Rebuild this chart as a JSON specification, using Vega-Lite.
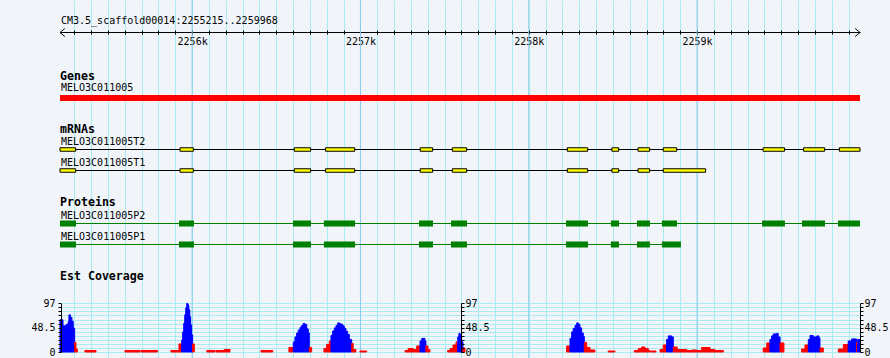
{
  "$schema": "https://vega.github.io/schema/vega-lite/v6.json",
  "width": 800,
  "height": 358,
  "autosize": {"type": "none"},
  "padding": {"left": 60, "right": 30, "top": 0, "bottom": 0},
  "background": "#f1f5fa",
  "config": {
    "view": {"stroke": null},
    "axis": {"labelFont": "DejaVu Sans Mono", "labelFontSize": 10, "labelColor": "#000000", "tickColor": "#000000", "domainColor": "#000000", "labelOverlap": false, "labelFlush": false}
  },
  "datasets": {
    "majorTicks": [{"pos": 2256000}, {"pos": 2257000}, {"pos": 2258000}, {"pos": 2259000}],
    "rulerEnds": [{"pos": 2255215, "end": "start"}, {"pos": 2259968, "end": "stop"}],
    "rulerTitle": [{"pos": 2255215, "lane": "title", "label": "CM3.5_scaffold00014:2255215..2259968"}],
    "genes": [{"name": "MELO3C011005", "s": 2255215, "e": 2259968}],
    "transcripts": [
      {"name": "MELO3C011005T2", "s": 2255215, "e": 2259968},
      {"name": "MELO3C011005T1", "s": 2255215, "e": 2259051}
    ],
    "exons": [
      {"name": "MELO3C011005T2", "s": 2255215, "e": 2255308},
      {"name": "MELO3C011005T2", "s": 2255928, "e": 2256007},
      {"name": "MELO3C011005T2", "s": 2256607, "e": 2256704},
      {"name": "MELO3C011005T2", "s": 2256793, "e": 2256966},
      {"name": "MELO3C011005T2", "s": 2257355, "e": 2257429},
      {"name": "MELO3C011005T2", "s": 2257546, "e": 2257631},
      {"name": "MELO3C011005T2", "s": 2258229, "e": 2258350},
      {"name": "MELO3C011005T2", "s": 2258494, "e": 2258534},
      {"name": "MELO3C011005T2", "s": 2258649, "e": 2258718},
      {"name": "MELO3C011005T2", "s": 2258799, "e": 2258879},
      {"name": "MELO3C011005T2", "s": 2259392, "e": 2259520},
      {"name": "MELO3C011005T2", "s": 2259633, "e": 2259758},
      {"name": "MELO3C011005T2", "s": 2259845, "e": 2259968},
      {"name": "MELO3C011005T1", "s": 2255215, "e": 2255308},
      {"name": "MELO3C011005T1", "s": 2255928, "e": 2256007},
      {"name": "MELO3C011005T1", "s": 2256607, "e": 2256704},
      {"name": "MELO3C011005T1", "s": 2256793, "e": 2256966},
      {"name": "MELO3C011005T1", "s": 2257355, "e": 2257429},
      {"name": "MELO3C011005T1", "s": 2257546, "e": 2257631},
      {"name": "MELO3C011005T1", "s": 2258229, "e": 2258350},
      {"name": "MELO3C011005T1", "s": 2258494, "e": 2258534},
      {"name": "MELO3C011005T1", "s": 2258649, "e": 2258718},
      {"name": "MELO3C011005T1", "s": 2258799, "e": 2259051}
    ],
    "proteins": [
      {"name": "MELO3C011005P2", "s": 2255215, "e": 2259968},
      {"name": "MELO3C011005P1", "s": 2255215, "e": 2258904}
    ],
    "cds": [
      {"name": "MELO3C011005P2", "s": 2255215, "e": 2255310},
      {"name": "MELO3C011005P2", "s": 2255922, "e": 2256011},
      {"name": "MELO3C011005P2", "s": 2256599, "e": 2256706},
      {"name": "MELO3C011005P2", "s": 2256783, "e": 2256968},
      {"name": "MELO3C011005P2", "s": 2257348, "e": 2257431},
      {"name": "MELO3C011005P2", "s": 2257538, "e": 2257633},
      {"name": "MELO3C011005P2", "s": 2258221, "e": 2258352},
      {"name": "MELO3C011005P2", "s": 2258488, "e": 2258536},
      {"name": "MELO3C011005P2", "s": 2258643, "e": 2258720},
      {"name": "MELO3C011005P2", "s": 2258791, "e": 2258881},
      {"name": "MELO3C011005P2", "s": 2259386, "e": 2259522},
      {"name": "MELO3C011005P2", "s": 2259623, "e": 2259760},
      {"name": "MELO3C011005P2", "s": 2259837, "e": 2259968},
      {"name": "MELO3C011005P1", "s": 2255215, "e": 2255310},
      {"name": "MELO3C011005P1", "s": 2255922, "e": 2256011},
      {"name": "MELO3C011005P1", "s": 2256599, "e": 2256706},
      {"name": "MELO3C011005P1", "s": 2256783, "e": 2256968},
      {"name": "MELO3C011005P1", "s": 2257348, "e": 2257431},
      {"name": "MELO3C011005P1", "s": 2257538, "e": 2257633},
      {"name": "MELO3C011005P1", "s": 2258221, "e": 2258352},
      {"name": "MELO3C011005P1", "s": 2258488, "e": 2258536},
      {"name": "MELO3C011005P1", "s": 2258643, "e": 2258720},
      {"name": "MELO3C011005P1", "s": 2258791, "e": 2258904}
    ],
    "coverage": [
      {"s": 2255215, "e": 2255233, "c": 64, "k": "est"},
      {"s": 2255233, "e": 2255251, "c": 52, "k": "est"},
      {"s": 2255251, "e": 2255263, "c": 55, "k": "est"},
      {"s": 2255263, "e": 2255268, "c": 60, "k": "est"},
      {"s": 2255268, "e": 2255277, "c": 74, "k": "est"},
      {"s": 2255277, "e": 2255286, "c": 69, "k": "est"},
      {"s": 2255286, "e": 2255294, "c": 61, "k": "est"},
      {"s": 2255294, "e": 2255302, "c": 47, "k": "est"},
      {"s": 2255302, "e": 2255310, "c": 19, "k": "low"},
      {"s": 2255310, "e": 2255318, "c": 6, "k": "low"},
      {"s": 2255363, "e": 2255429, "c": 3, "k": "low"},
      {"s": 2255601, "e": 2255690, "c": 3, "k": "low"},
      {"s": 2255696, "e": 2255794, "c": 3, "k": "low"},
      {"s": 2255874, "e": 2255922, "c": 3, "k": "low"},
      {"s": 2255922, "e": 2255938, "c": 16, "k": "low"},
      {"s": 2255938, "e": 2255944, "c": 24, "k": "est"},
      {"s": 2255944, "e": 2255950, "c": 40, "k": "est"},
      {"s": 2255950, "e": 2255956, "c": 57, "k": "est"},
      {"s": 2255956, "e": 2255962, "c": 74, "k": "est"},
      {"s": 2255962, "e": 2255968, "c": 88, "k": "est"},
      {"s": 2255968, "e": 2255974, "c": 97, "k": "est"},
      {"s": 2255974, "e": 2255980, "c": 94, "k": "est"},
      {"s": 2255980, "e": 2255986, "c": 84, "k": "est"},
      {"s": 2255986, "e": 2255991, "c": 70, "k": "est"},
      {"s": 2255991, "e": 2255997, "c": 54, "k": "est"},
      {"s": 2255997, "e": 2256003, "c": 34, "k": "est"},
      {"s": 2256003, "e": 2256013, "c": 16, "k": "low"},
      {"s": 2256087, "e": 2256136, "c": 3, "k": "low"},
      {"s": 2256142, "e": 2256190, "c": 3, "k": "low"},
      {"s": 2256190, "e": 2256225, "c": 5, "k": "low"},
      {"s": 2256409, "e": 2256479, "c": 3, "k": "low"},
      {"s": 2256575, "e": 2256601, "c": 9, "k": "low"},
      {"s": 2256601, "e": 2256611, "c": 20, "k": "est"},
      {"s": 2256611, "e": 2256621, "c": 30, "k": "est"},
      {"s": 2256621, "e": 2256631, "c": 38, "k": "est"},
      {"s": 2256631, "e": 2256641, "c": 44, "k": "est"},
      {"s": 2256641, "e": 2256651, "c": 49, "k": "est"},
      {"s": 2256651, "e": 2256660, "c": 53, "k": "est"},
      {"s": 2256660, "e": 2256670, "c": 57, "k": "est"},
      {"s": 2256670, "e": 2256681, "c": 55, "k": "est"},
      {"s": 2256681, "e": 2256690, "c": 46, "k": "est"},
      {"s": 2256690, "e": 2256696, "c": 38, "k": "est"},
      {"s": 2256696, "e": 2256710, "c": 9, "k": "low"},
      {"s": 2256783, "e": 2256799, "c": 7, "k": "low"},
      {"s": 2256799, "e": 2256815, "c": 15, "k": "low"},
      {"s": 2256815, "e": 2256825, "c": 22, "k": "low"},
      {"s": 2256825, "e": 2256835, "c": 33, "k": "est"},
      {"s": 2256835, "e": 2256845, "c": 42, "k": "est"},
      {"s": 2256845, "e": 2256855, "c": 48, "k": "est"},
      {"s": 2256855, "e": 2256865, "c": 53, "k": "est"},
      {"s": 2256865, "e": 2256874, "c": 58, "k": "est"},
      {"s": 2256874, "e": 2256884, "c": 57, "k": "est"},
      {"s": 2256884, "e": 2256895, "c": 55, "k": "est"},
      {"s": 2256895, "e": 2256904, "c": 52, "k": "est"},
      {"s": 2256904, "e": 2256914, "c": 47, "k": "est"},
      {"s": 2256914, "e": 2256924, "c": 41, "k": "est"},
      {"s": 2256924, "e": 2256934, "c": 35, "k": "est"},
      {"s": 2256934, "e": 2256948, "c": 25, "k": "est"},
      {"s": 2256948, "e": 2256957, "c": 17, "k": "low"},
      {"s": 2256957, "e": 2256973, "c": 5, "k": "low"},
      {"s": 2256997, "e": 2257037, "c": 2, "k": "low"},
      {"s": 2257265, "e": 2257284, "c": 3, "k": "low"},
      {"s": 2257284, "e": 2257314, "c": 7, "k": "low"},
      {"s": 2257314, "e": 2257334, "c": 5, "k": "low"},
      {"s": 2257334, "e": 2257354, "c": 12, "k": "low"},
      {"s": 2257354, "e": 2257364, "c": 22, "k": "est"},
      {"s": 2257364, "e": 2257383, "c": 27, "k": "est"},
      {"s": 2257383, "e": 2257389, "c": 22, "k": "est"},
      {"s": 2257389, "e": 2257401, "c": 12, "k": "low"},
      {"s": 2257401, "e": 2257413, "c": 5, "k": "low"},
      {"s": 2257518, "e": 2257532, "c": 3, "k": "low"},
      {"s": 2257532, "e": 2257550, "c": 7, "k": "low"},
      {"s": 2257550, "e": 2257568, "c": 14, "k": "low"},
      {"s": 2257568, "e": 2257578, "c": 20, "k": "low"},
      {"s": 2257578, "e": 2257585, "c": 30, "k": "est"},
      {"s": 2257585, "e": 2257593, "c": 37, "k": "est"},
      {"s": 2257593, "e": 2257601, "c": 32, "k": "est"},
      {"s": 2257601, "e": 2257609, "c": 20, "k": "est"},
      {"s": 2257609, "e": 2257621, "c": 8, "k": "low"},
      {"s": 2258225, "e": 2258245, "c": 12, "k": "low"},
      {"s": 2258245, "e": 2258255, "c": 27, "k": "est"},
      {"s": 2258255, "e": 2258264, "c": 40, "k": "est"},
      {"s": 2258264, "e": 2258275, "c": 47, "k": "est"},
      {"s": 2258275, "e": 2258285, "c": 53, "k": "est"},
      {"s": 2258285, "e": 2258294, "c": 58, "k": "est"},
      {"s": 2258294, "e": 2258304, "c": 55, "k": "est"},
      {"s": 2258304, "e": 2258314, "c": 48, "k": "est"},
      {"s": 2258314, "e": 2258324, "c": 38, "k": "est"},
      {"s": 2258324, "e": 2258330, "c": 31, "k": "est"},
      {"s": 2258330, "e": 2258344, "c": 19, "k": "low"},
      {"s": 2258344, "e": 2258364, "c": 9, "k": "low"},
      {"s": 2258364, "e": 2258393, "c": 4, "k": "low"},
      {"s": 2258472, "e": 2258512, "c": 2, "k": "low"},
      {"s": 2258627, "e": 2258651, "c": 3, "k": "low"},
      {"s": 2258651, "e": 2258671, "c": 7, "k": "low"},
      {"s": 2258671, "e": 2258690, "c": 10, "k": "low"},
      {"s": 2258690, "e": 2258710, "c": 7, "k": "low"},
      {"s": 2258710, "e": 2258720, "c": 3, "k": "low"},
      {"s": 2258724, "e": 2258756, "c": 2, "k": "low"},
      {"s": 2258780, "e": 2258799, "c": 5, "k": "low"},
      {"s": 2258799, "e": 2258819, "c": 14, "k": "low"},
      {"s": 2258819, "e": 2258829, "c": 25, "k": "est"},
      {"s": 2258829, "e": 2258849, "c": 32, "k": "est"},
      {"s": 2258849, "e": 2258859, "c": 30, "k": "est"},
      {"s": 2258859, "e": 2258882, "c": 10, "k": "low"},
      {"s": 2258882, "e": 2258938, "c": 5, "k": "low"},
      {"s": 2258938, "e": 2258968, "c": 3, "k": "low"},
      {"s": 2258968, "e": 2258998, "c": 4, "k": "low"},
      {"s": 2258998, "e": 2259027, "c": 3, "k": "low"},
      {"s": 2259027, "e": 2259077, "c": 9, "k": "low"},
      {"s": 2259077, "e": 2259106, "c": 5, "k": "low"},
      {"s": 2259106, "e": 2259156, "c": 3, "k": "low"},
      {"s": 2259393, "e": 2259414, "c": 8, "k": "low"},
      {"s": 2259414, "e": 2259433, "c": 18, "k": "low"},
      {"s": 2259433, "e": 2259443, "c": 25, "k": "est"},
      {"s": 2259443, "e": 2259453, "c": 32, "k": "est"},
      {"s": 2259453, "e": 2259473, "c": 36, "k": "est"},
      {"s": 2259473, "e": 2259482, "c": 37, "k": "est"},
      {"s": 2259482, "e": 2259493, "c": 30, "k": "est"},
      {"s": 2259493, "e": 2259516, "c": 18, "k": "low"},
      {"s": 2259621, "e": 2259641, "c": 6, "k": "low"},
      {"s": 2259641, "e": 2259661, "c": 14, "k": "low"},
      {"s": 2259661, "e": 2259671, "c": 25, "k": "est"},
      {"s": 2259671, "e": 2259690, "c": 33, "k": "est"},
      {"s": 2259690, "e": 2259711, "c": 30, "k": "est"},
      {"s": 2259711, "e": 2259724, "c": 32, "k": "est"},
      {"s": 2259724, "e": 2259730, "c": 28, "k": "est"},
      {"s": 2259730, "e": 2259750, "c": 8, "k": "low"},
      {"s": 2259839, "e": 2259869, "c": 6, "k": "low"},
      {"s": 2259869, "e": 2259898, "c": 15, "k": "low"},
      {"s": 2259898, "e": 2259918, "c": 22, "k": "est"},
      {"s": 2259918, "e": 2259948, "c": 26, "k": "est"},
      {"s": 2259948, "e": 2259954, "c": 20, "k": "low"},
      {"s": 2259954, "e": 2259968, "c": 25, "k": "est"}
    ]
  },
  "resolve": {"scale": {"y": "independent"}, "axis": {"x": "independent", "y": "independent"}},
  "layer": [
    {
      "data": {"name": "majorTicks"},
      "mark": {"type": "rule", "color": "#8ccaea", "strokeWidth": 1},
      "encoding": {
        "x": {"field": "pos", "type": "quantitative", "scale": {"domain": [2255215, 2259968], "nice": false, "zero": false},
          "axis": {"orient": "top", "tickCount": 48, "grid": true, "gridColor": "#a9ecf1", "gridWidth": 1, "gridOpacity": 1, "labels": false, "ticks": false, "domain": false, "title": null}}
      }
    },
    {
      "resolve": {"axis": {"x": "independent"}},
      "layer": [
        {
          "data": {"name": "rulerEnds"},
          "mark": {"type": "point", "filled": false, "stroke": "#000000", "strokeWidth": 1, "size": 64, "opacity": 1},
          "encoding": {
            "x": {"field": "pos", "type": "quantitative", "scale": {"domain": [2255215, 2259968], "nice": false, "zero": false},
              "axis": {"orient": "bottom", "offset": -326, "tickCount": 48, "grid": false, "domain": true, "domainWidth": 1, "ticks": true, "tickSize": 2, "tickWidth": 1, "labels": true, "labelPadding": 2.5, "labelExpr": "datum.value % 1000 === 0 ? format(datum.value / 1000, 'd') + 'k' : ''", "title": null}},
            "y": {"datum": "ruler", "type": "nominal", "scale": {"type": "point", "domain": ["title", "ruler"], "range": [21, 32.5], "padding": 0}, "axis": null},
            "shape": {"field": "end", "type": "nominal", "scale": {"domain": ["start", "stop"], "range": ["M1.2,-1L0,0L1.2,1", "M-1.2,-1L0,0L-1.2,1"]}, "legend": null}
          }
        },
        {
          "data": {"name": "rulerTitle"},
          "mark": {"type": "text", "align": "left", "baseline": "middle", "font": "DejaVu Sans Mono", "fontSize": 10, "color": "#000000", "dx": 1},
          "encoding": {
            "x": {"field": "pos", "type": "quantitative", "scale": {"domain": [2255215, 2259968], "nice": false, "zero": false},
              "axis": {"orient": "top", "offset": -32, "tickCount": 48, "grid": false, "domain": false, "ticks": true, "tickSize": 2, "tickWidth": 1, "labels": false, "title": null}},
            "y": {"field": "lane", "type": "nominal", "scale": {"type": "point", "domain": ["title", "ruler"], "range": [21, 32.5], "padding": 0}, "axis": null},
            "text": {"field": "label"}
          }
        }
      ]
    },
    {
      "layer": [
        {
          "data": {"name": "genes"},
          "mark": {"type": "rule", "color": "#ff0000", "strokeWidth": 6},
          "encoding": {
            "x": {"field": "s", "type": "quantitative", "scale": {"domain": [2255215, 2259968], "nice": false, "zero": false}, "axis": null},
            "x2": {"field": "e"},
            "y": {"field": "name", "type": "nominal", "scale": {"type": "point", "domain": ["Genes", "MELO3C011005"], "range": [77, 98], "padding": 0}, "axis": null}
          }
        },
        {
          "data": {"name": "genes"},
          "mark": {"type": "text", "align": "left", "baseline": "middle", "font": "DejaVu Sans Mono", "fontSize": 10, "color": "#000000", "dx": 1, "dy": -10},
          "encoding": {
            "x": {"field": "s", "type": "quantitative", "scale": {"domain": [2255215, 2259968], "nice": false, "zero": false}, "axis": null},
            "y": {"field": "name", "type": "nominal", "scale": {"type": "point", "domain": ["Genes", "MELO3C011005"], "range": [77, 98], "padding": 0}, "axis": null},
            "text": {"field": "name"}
          }
        },
        {
          "data": {"values": [{"pos": 2255215, "track": "Genes"}]},
          "mark": {"type": "text", "align": "left", "baseline": "middle", "font": "DejaVu Sans Mono", "fontSize": 11.6, "fontWeight": "bold", "color": "#000000"},
          "encoding": {
            "x": {"field": "pos", "type": "quantitative", "scale": {"domain": [2255215, 2259968], "nice": false, "zero": false}, "axis": null},
            "y": {"field": "track", "type": "nominal", "scale": {"type": "point", "domain": ["Genes", "MELO3C011005"], "range": [77, 98], "padding": 0}, "axis": null},
            "text": {"field": "track"}
          }
        }
      ]
    },
    {
      "layer": [
        {
          "data": {"name": "transcripts"},
          "mark": {"type": "rule", "color": "#000000", "strokeWidth": 1},
          "encoding": {
            "x": {"field": "s", "type": "quantitative", "scale": {"domain": [2255215, 2259968], "nice": false, "zero": false}, "axis": null},
            "x2": {"field": "e"},
            "y": {"field": "name", "type": "nominal", "scale": {"type": "point", "domain": ["mRNAs", "MELO3C011005T2", "MELO3C011005T1"], "range": [128.5, 170.5], "padding": 0}, "axis": null}
          }
        },
        {
          "data": {"name": "exons"},
          "mark": {"type": "bar", "orient": "horizontal", "height": 3.5, "fill": "#ffff00", "stroke": "#000000", "strokeWidth": 1},
          "encoding": {
            "x": {"field": "s", "type": "quantitative", "scale": {"domain": [2255215, 2259968], "nice": false, "zero": false}, "axis": null},
            "x2": {"field": "e"},
            "y": {"field": "name", "type": "nominal", "scale": {"type": "point", "domain": ["mRNAs", "MELO3C011005T2", "MELO3C011005T1"], "range": [128.5, 170.5], "padding": 0}, "axis": null}
          }
        },
        {
          "data": {"name": "transcripts"},
          "mark": {"type": "text", "align": "left", "baseline": "middle", "font": "DejaVu Sans Mono", "fontSize": 10, "color": "#000000", "dx": 1, "dy": -8},
          "encoding": {
            "x": {"field": "s", "type": "quantitative", "scale": {"domain": [2255215, 2259968], "nice": false, "zero": false}, "axis": null},
            "y": {"field": "name", "type": "nominal", "scale": {"type": "point", "domain": ["mRNAs", "MELO3C011005T2", "MELO3C011005T1"], "range": [128.5, 170.5], "padding": 0}, "axis": null},
            "text": {"field": "name"}
          }
        },
        {
          "data": {"values": [{"pos": 2255215, "track": "mRNAs"}]},
          "mark": {"type": "text", "align": "left", "baseline": "middle", "font": "DejaVu Sans Mono", "fontSize": 11.6, "fontWeight": "bold", "color": "#000000", "dy": 1},
          "encoding": {
            "x": {"field": "pos", "type": "quantitative", "scale": {"domain": [2255215, 2259968], "nice": false, "zero": false}, "axis": null},
            "y": {"field": "track", "type": "nominal", "scale": {"type": "point", "domain": ["mRNAs", "MELO3C011005T2", "MELO3C011005T1"], "range": [128.5, 170.5], "padding": 0}, "axis": null},
            "text": {"field": "track"}
          }
        }
      ]
    },
    {
      "layer": [
        {
          "data": {"name": "proteins"},
          "mark": {"type": "rule", "color": "#008000", "strokeWidth": 1},
          "encoding": {
            "x": {"field": "s", "type": "quantitative", "scale": {"domain": [2255215, 2259968], "nice": false, "zero": false}, "axis": null},
            "x2": {"field": "e"},
            "y": {"field": "name", "type": "nominal", "scale": {"type": "point", "domain": ["Proteins", "MELO3C011005P2", "MELO3C011005P1"], "range": [202.5, 244.5], "padding": 0}, "axis": null}
          }
        },
        {
          "data": {"name": "cds"},
          "mark": {"type": "bar", "orient": "horizontal", "height": 6, "fill": "#008000", "strokeWidth": 0},
          "encoding": {
            "x": {"field": "s", "type": "quantitative", "scale": {"domain": [2255215, 2259968], "nice": false, "zero": false}, "axis": null},
            "x2": {"field": "e"},
            "y": {"field": "name", "type": "nominal", "scale": {"type": "point", "domain": ["Proteins", "MELO3C011005P2", "MELO3C011005P1"], "range": [202.5, 244.5], "padding": 0}, "axis": null}
          }
        },
        {
          "data": {"name": "proteins"},
          "mark": {"type": "text", "align": "left", "baseline": "middle", "font": "DejaVu Sans Mono", "fontSize": 10, "color": "#000000", "dx": 1, "dy": -7.5},
          "encoding": {
            "x": {"field": "s", "type": "quantitative", "scale": {"domain": [2255215, 2259968], "nice": false, "zero": false}, "axis": null},
            "y": {"field": "name", "type": "nominal", "scale": {"type": "point", "domain": ["Proteins", "MELO3C011005P2", "MELO3C011005P1"], "range": [202.5, 244.5], "padding": 0}, "axis": null},
            "text": {"field": "name"}
          }
        },
        {
          "data": {"values": [{"pos": 2255215, "track": "Proteins"}]},
          "mark": {"type": "text", "align": "left", "baseline": "middle", "font": "DejaVu Sans Mono", "fontSize": 11.6, "fontWeight": "bold", "color": "#000000", "dy": 0.5},
          "encoding": {
            "x": {"field": "pos", "type": "quantitative", "scale": {"domain": [2255215, 2259968], "nice": false, "zero": false}, "axis": null},
            "y": {"field": "track", "type": "nominal", "scale": {"type": "point", "domain": ["Proteins", "MELO3C011005P2", "MELO3C011005P1"], "range": [202.5, 244.5], "padding": 0}, "axis": null},
            "text": {"field": "track"}
          }
        }
      ]
    },
    {
      "data": {"values": [{"pos": 2255215, "track": "Est Coverage"}]},
      "mark": {"type": "text", "align": "left", "baseline": "middle", "font": "DejaVu Sans Mono", "fontSize": 11.6, "fontWeight": "bold", "color": "#000000"},
      "encoding": {
        "x": {"field": "pos", "type": "quantitative", "scale": {"domain": [2255215, 2259968], "nice": false, "zero": false}, "axis": null},
        "y": {"field": "track", "type": "nominal", "scale": {"type": "point", "domain": ["Est Coverage"], "range": [272, 282], "padding": 0}, "axis": null},
        "text": {"field": "track"}
      }
    },
    {
      "resolve": {"axis": {"y": "independent"}},
      "layer": [
        {
          "data": {"values": [{}]},
          "mark": {"type": "rule", "opacity": 0},
          "encoding": {
            "y": {"datum": 0, "type": "quantitative", "scale": {"domain": [0, 97], "range": [352, 303.3], "nice": false, "zero": true},
              "axis": {"orient": "left", "values": [0, 8.0833, 16.1667, 24.25, 32.3333, 40.4167, 48.5, 56.5833, 64.6667, 72.75, 80.8333, 88.9167, 97], "grid": true, "gridColor": "#a9ecf1", "gridWidth": 1, "labels": false, "ticks": false, "domain": false, "zindex": 0, "title": null}}
          }
        },
        {
          "data": {"name": "coverage"},
          "mark": {"type": "rect", "strokeWidth": 1},
          "encoding": {
            "x": {"field": "s", "type": "quantitative", "scale": {"domain": [2255215, 2259968], "nice": false, "zero": false}, "axis": null},
            "x2": {"field": "e"},
            "y": {"field": "c", "type": "quantitative", "scale": {"domain": [0, 97], "range": [352, 303.3], "nice": false, "zero": true},
              "axis": {"orient": "left", "offset": -1, "values": [0, 8.0833, 16.1667, 24.25, 32.3333, 40.4167, 48.5, 56.5833, 64.6667, 72.75, 80.8333, 88.9167, 97], "labelExpr": "datum.value === 0 ? '0' : (datum.value === 48.5 ? '48.5' : (datum.value === 97 ? '97' : ''))", "grid": false, "domain": true, "domainWidth": 1, "ticks": true, "tickSize": 3, "tickWidth": 1, "labelPadding": 3, "zindex": 1, "title": null}},
            "y2": {"datum": 0},
            "color": {"field": "k", "type": "nominal", "scale": {"domain": ["est", "low"], "range": ["#0000ff", "#ff0000"]}, "legend": null},
            "stroke": {"field": "k", "type": "nominal", "scale": {"domain": ["est", "low"], "range": ["#0000ff", "#ff0000"]}, "legend": null}
          }
        },
        {
          "data": {"values": [{}]},
          "mark": {"type": "rule", "opacity": 0},
          "encoding": {
            "y": {"datum": 0, "type": "quantitative", "scale": {"domain": [0, 97], "range": [352, 303.3], "nice": false, "zero": true},
              "axis": {"orient": "right", "offset": -399, "values": [0, 8.0833, 16.1667, 24.25, 32.3333, 40.4167, 48.5, 56.5833, 64.6667, 72.75, 80.8333, 88.9167, 97], "labelExpr": "datum.value === 0 ? '0' : (datum.value === 48.5 ? '48.5' : (datum.value === 97 ? '97' : ''))", "grid": false, "domain": true, "domainWidth": 1, "ticks": true, "tickSize": 3, "tickWidth": 1, "labelPadding": 1, "zindex": 1, "title": null}}
          }
        },
        {
          "data": {"values": [{}]},
          "mark": {"type": "rule", "opacity": 0},
          "encoding": {
            "y": {"datum": 0, "type": "quantitative", "scale": {"domain": [0, 97], "range": [352, 303.3], "nice": false, "zero": true},
              "axis": {"orient": "right", "offset": 0, "values": [0, 8.0833, 16.1667, 24.25, 32.3333, 40.4167, 48.5, 56.5833, 64.6667, 72.75, 80.8333, 88.9167, 97], "labelExpr": "datum.value === 0 ? '0' : (datum.value === 48.5 ? '48.5' : (datum.value === 97 ? '97' : ''))", "grid": false, "domain": true, "domainWidth": 1, "ticks": true, "tickSize": 3, "tickWidth": 1, "labelPadding": 1, "zindex": 1, "title": null}}
          }
        }
      ]
    }
  ]
}
